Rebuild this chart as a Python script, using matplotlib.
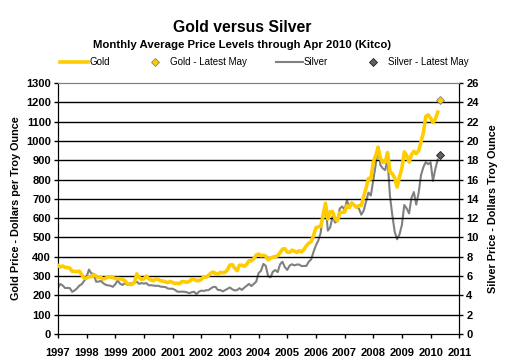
import numpy as np
import matplotlib
matplotlib.use("Agg")
import matplotlib.pyplot as plt
from matplotlib.lines import Line2D

plt.rcParams['font.family'] = ['Liberation Sans', 'DejaVu Sans']

# monthly averages, Jan 1997 .. Apr 2010
gold = [
    355, 347, 352, 345, 344, 341, 324, 324, 323, 325, 306, 289,   # 1997
    289, 297, 296, 308, 299, 292, 293, 284, 289, 296, 294, 292,   # 1998
    287, 287, 286, 283, 276, 261, 256, 257, 265, 311, 293, 283,   # 1999
    285, 300, 286, 280, 275, 286, 282, 275, 274, 270, 266, 272,   # 2000
    266, 262, 263, 261, 272, 270, 268, 272, 283, 283, 276, 276,   # 2001
    282, 296, 294, 303, 315, 321, 313, 310, 319, 317, 319, 333,   # 2002
    357, 359, 341, 328, 356, 356, 351, 360, 379, 379, 390, 408,   # 2003
    414, 405, 407, 403, 384, 392, 398, 401, 405, 421, 439, 442,   # 2004
    424, 423, 434, 429, 422, 431, 425, 438, 456, 470, 477, 510,   # 2005
    550, 555, 557, 611, 677, 596, 634, 633, 598, 586, 628, 630,   # 2006
    631, 665, 655, 679, 667, 656, 665, 665, 713, 755, 806, 803,   # 2007
    890, 922, 968, 910, 889, 890, 940, 839, 830, 807, 761, 816,   # 2008
    859, 943, 924, 890, 929, 946, 934, 949, 997, 1043, 1127, 1135,  # 2009
    1118, 1095, 1113, 1149,                                       # 2010
]
silver = [
    4.77, 5.18, 5.02, 4.75, 4.77, 4.74, 4.36, 4.51, 4.72, 5.01, 5.16, 5.50,   # 1997
    5.90, 6.67, 6.26, 6.23, 5.41, 5.42, 5.49, 5.25, 5.09, 5.03, 4.99, 4.88,   # 1998
    5.15, 5.53, 5.21, 5.07, 5.25, 5.11, 5.22, 5.25, 5.29, 5.41, 5.19, 5.27,   # 1999
    5.21, 5.27, 5.04, 5.05, 5.01, 4.98, 4.99, 4.90, 4.88, 4.86, 4.71, 4.68,   # 2000
    4.68, 4.57, 4.38, 4.37, 4.38, 4.37, 4.31, 4.22, 4.32, 4.37, 4.13, 4.37,   # 2001
    4.49, 4.45, 4.52, 4.54, 4.71, 4.87, 4.87, 4.55, 4.55, 4.41, 4.54, 4.66,   # 2002
    4.81, 4.62, 4.51, 4.54, 4.74, 4.56, 4.79, 4.99, 5.18, 4.96, 5.18, 5.41,   # 2003
    6.30, 6.54, 7.25, 7.06, 5.98, 5.87, 6.45, 6.62, 6.41, 7.21, 7.48, 6.92,   # 2004
    6.63, 7.08, 7.22, 7.10, 7.19, 7.19, 7.03, 7.04, 7.05, 7.49, 7.72, 8.50,   # 2005
    9.17, 9.68, 10.47, 12.62, 13.38, 10.70, 11.05, 12.20, 11.54, 11.71, 13.00, 13.21,  # 2006
    12.86, 13.87, 13.06, 13.57, 13.34, 13.14, 12.99, 12.36, 12.78, 13.73, 14.65, 14.34,  # 2007
    15.89, 17.48, 19.33, 17.50, 17.15, 16.98, 18.05, 14.30, 12.28, 10.57, 9.81, 10.31,  # 2008
    11.30, 13.36, 13.00, 12.49, 14.09, 14.70, 13.40, 14.60, 16.45, 17.29, 17.81, 17.59,  # 2009
    17.79, 15.86, 17.11, 18.07,                                               # 2010
]
gold_may = 1212
silver_may = 18.55

start_year = 1997
years = list(range(1997, 2012))

x = start_year + np.arange(len(gold)) / 12.0
x_may = start_year + len(gold) / 12.0

fig = plt.figure(figsize=(5.08, 3.61), dpi=100)
ax = fig.add_axes([0.114, 0.075, 0.79, 0.695])
ax2 = ax.twinx()

gold_col = '#FFCC00'
silver_col = '#808080'
gold_mk = dict(ls='none', marker='D', ms=3.8, mfc=gold_col, mec='#808080', mew=0.6)
silver_mk = dict(ls='none', marker='D', ms=3.8, mfc='#606060', mec='#202020', mew=0.6)

ax.plot(x, gold, color=gold_col, lw=2.6, zorder=3)
ax.plot([x_may], [gold_may], zorder=4, **gold_mk)
ax2.plot(x, silver, color=silver_col, lw=1.5, zorder=3)
ax2.plot([x_may], [silver_may], zorder=4, **silver_mk)

ax.set_zorder(ax2.get_zorder() + 1)
ax.patch.set_visible(False)

ax.set_xlim(1997, 2011)
ax.set_ylim(0, 1300)
ax2.set_ylim(0, 26)
ax.set_yticks(range(0, 1301, 100))
ax2.set_yticks(range(0, 27, 2))
ax.set_xticks(years)
ax.set_xticklabels([str(y) for y in years])

for yv in range(100, 1300, 100):
    ax.axhline(yv, color='black', lw=1, zorder=1)

for a in (ax, ax2):
    a.tick_params(labelsize=8, length=3, width=1, color='black', pad=2)
    for lab in a.get_xticklabels() + a.get_yticklabels():
        lab.set_fontweight('bold')
    a.spines['top'].set_color('#808080')
    a.spines['left'].set_color('black')
    a.spines['right'].set_color('black')
    a.spines['bottom'].set_color('black')
ax.tick_params(axis='x', pad=7)

ax.set_ylabel('Gold Price - Dollars per Troy Ounce', fontsize=7.8,
              fontweight='bold', labelpad=4)
ax2.set_ylabel('Silver Price - Dollars Troy Ounce', fontsize=7.8,
               fontweight='bold', labelpad=7)

fig.text(0.476, 0.925, 'Gold versus Silver', ha='center', va='center',
         fontsize=11.3, fontweight='bold')
fig.text(0.476, 0.875, 'Monthly Average Price Levels through Apr 2010 (Kitco)',
         ha='center', va='center', fontsize=8.2, fontweight='bold')

# legend, laid out by hand like the original
W, H = 508.0, 361.0
ly = 1 - 62 / H
fig.add_artist(Line2D([60 / W, 88 / W], [ly, ly], color=gold_col, lw=2.6,
                      transform=fig.transFigure))
fig.text(89 / W, ly, 'Gold', fontsize=7, va='center')
fig.add_artist(Line2D([155 / W], [ly], transform=fig.transFigure, **gold_mk))
fig.text(170 / W, ly, 'Gold - Latest May', fontsize=7, va='center')
fig.add_artist(Line2D([276 / W, 303 / W], [ly, ly], color=silver_col, lw=1.5,
                      transform=fig.transFigure))
fig.text(304 / W, ly, 'Silver', fontsize=7, va='center')
fig.add_artist(Line2D([373 / W], [ly], transform=fig.transFigure, **silver_mk))
fig.text(388 / W, ly, 'Silver - Latest May', fontsize=7, va='center')

fig.savefig('out.png', dpi=100)
